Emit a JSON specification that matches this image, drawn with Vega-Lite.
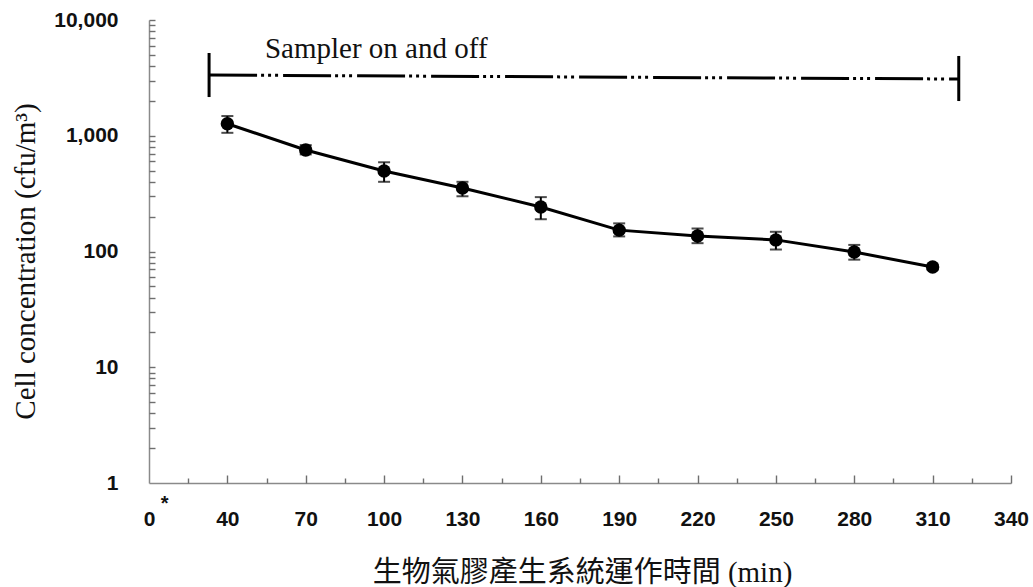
{
  "$schema": "https://vega.github.io/schema/vega-lite/v6.json",
  "width": 862,
  "height": 463,
  "autosize": "none",
  "padding": {"left": 149, "top": 20, "right": 22, "bottom": 104},
  "background": "white",
  "config": {
    "view": {"stroke": null},
    "axis": {
      "grid": false,
      "domainColor": "#8a8a8a",
      "domainWidth": 1.5,
      "tickColor": "#6e6e6e",
      "tickWidth": 1.4,
      "labelFont": "Liberation Sans",
      "labelFontWeight": "bold",
      "labelFontSize": 21,
      "labelColor": "#111111",
      "labelFlush": false,
      "labelOverlap": false,
      "titleFont": "Liberation Serif, Noto Sans CJK TC",
      "titleFontWeight": "normal",
      "titleFontSize": 29,
      "titleColor": "#111111"
    }
  },
  "datasets": {
    "series": [
      {"t": 40, "v": 1270, "lo": 1060, "hi": 1480},
      {"t": 70, "v": 753, "lo": 690, "hi": 830},
      {"t": 100, "v": 496, "lo": 400, "hi": 590},
      {"t": 130, "v": 354, "lo": 300, "hi": 400},
      {"t": 160, "v": 242, "lo": 190, "hi": 295},
      {"t": 190, "v": 153, "lo": 135, "hi": 175},
      {"t": 220, "v": 136, "lo": 118, "hi": 158},
      {"t": 250, "v": 126, "lo": 104, "hi": 148},
      {"t": 280, "v": 99, "lo": 85, "hi": 114},
      {"t": 310, "v": 73.5, "lo": 70, "hi": 77}
    ],
    "sampler": [
      {"t": 33, "t2": 320, "v": 3350, "v2": 3090}
    ],
    "caps": [
      {"t": 33, "v": 5190, "v2": 2160},
      {"t": 320, "v": 4890, "v2": 1995}
    ],
    "notes": [
      {"t": 54.4, "v": 4700, "label": "Sampler on and off"}
    ],
    "star": [
      {"t": 16, "v": 0.66, "label": "*"}
    ]
  },
  "resolve": {"axis": {"x": "independent", "y": "independent"}},
  "layer": [
    {
      "data": {"name": "series"},
      "mark": {"type": "errorbar", "ticks": {"size": 12, "color": "black", "thickness": 2}, "rule": {"color": "black", "strokeWidth": 2}},
      "encoding": {
        "x": {
          "field": "t", "type": "quantitative",
          "scale": {"domain": [10, 340], "nice": false, "zero": false},
          "axis": {
            "title": "生物氣膠產生系統運作時間  (min)",
            "orient": "bottom",
            "values": [10, 40, 70, 100, 130, 160, 190, 220, 250, 280, 310, 340],
            "labelExpr": "datum.value == 10 ? '0' : datum.label",
            "ticks": false,
            "tickSize": 0,
            "labelPadding": 25,
            "titleX": 433,
            "titleY": 89,
            "titleBaseline": "middle",
            "titleAlign": "center"
          }
        },
        "y": {
          "field": "lo", "type": "quantitative",
          "scale": {"type": "log", "domain": [1, 10000], "nice": false},
          "axis": {
            "title": "Cell concentration (cfu/m³)",
            "orient": "left",
            "values": [1, 10, 100, 1000, 10000],
            "format": ",",
            "ticks": false,
            "tickSize": 0,
            "labelPadding": 31,
            "titleX": -124,
            "titleY": 241,
            "titleAngle": -90,
            "titleBaseline": "middle",
            "titleAlign": "center"
          }
        },
        "y2": {"field": "hi"}
      }
    },
    {
      "data": {"name": "series"},
      "mark": {"type": "point", "opacity": 0},
      "encoding": {
        "x": {
          "field": "t", "type": "quantitative",
          "axis": {
            "orient": "top",
            "offset": -463,
            "title": null,
            "labels": false,
            "domain": false,
            "values": [25, 40, 55, 70, 85, 100, 115, 130, 145, 160, 175, 190, 205, 220, 235, 250, 265, 280, 295, 310, 325, 340],
            "tickSize": {"condition": {"test": "(datum.value - 10) % 30 == 0", "value": 8}, "value": 5}
          }
        },
        "y": {
          "field": "v", "type": "quantitative",
          "axis": {
            "orient": "right",
            "offset": -862,
            "title": null,
            "labels": false,
            "domain": false,
            "values": [2, 3, 4, 5, 6, 7, 8, 9, 10, 20, 30, 40, 50, 60, 70, 80, 90, 100, 200, 300, 400, 500, 600, 700, 800, 900, 1000, 2000, 3000, 4000, 5000, 6000, 7000, 8000, 9000, 10000],
            "tickSize": 6
          }
        }
      }
    },
    {
      "data": {"name": "series"},
      "mark": {"type": "line", "color": "black", "strokeWidth": 3},
      "encoding": {
        "x": {"field": "t", "type": "quantitative", "axis": null},
        "y": {"field": "v", "type": "quantitative", "axis": null}
      }
    },
    {
      "data": {"name": "series"},
      "mark": {"type": "point", "shape": "circle", "filled": true, "size": 180, "color": "black", "opacity": 1},
      "encoding": {
        "x": {"field": "t", "type": "quantitative", "axis": null},
        "y": {"field": "v", "type": "quantitative", "axis": null}
      }
    },
    {
      "data": {"name": "sampler"},
      "mark": {"type": "rule", "color": "black", "strokeWidth": 3, "strokeDash": [48, 4, 3, 4, 3, 4, 3, 5]},
      "encoding": {
        "x": {"field": "t", "type": "quantitative", "axis": null},
        "x2": {"field": "t2"},
        "y": {"field": "v", "type": "quantitative", "axis": null},
        "y2": {"field": "v2"}
      }
    },
    {
      "data": {"name": "caps"},
      "mark": {"type": "rule", "color": "black", "strokeWidth": 3},
      "encoding": {
        "x": {"field": "t", "type": "quantitative", "axis": null},
        "y": {"field": "v", "type": "quantitative", "axis": null},
        "y2": {"field": "v2"}
      }
    },
    {
      "data": {"name": "notes"},
      "mark": {"type": "text", "font": "Liberation Serif", "fontSize": 29, "align": "left", "baseline": "alphabetic", "color": "#111111"},
      "encoding": {
        "x": {"field": "t", "type": "quantitative", "axis": null},
        "y": {"field": "v", "type": "quantitative", "axis": null},
        "text": {"field": "label"}
      }
    },
    {
      "data": {"name": "star"},
      "mark": {"type": "text", "font": "Liberation Sans", "fontWeight": "bold", "fontSize": 20, "align": "center", "baseline": "middle", "color": "#111111", "clip": false},
      "encoding": {
        "x": {"field": "t", "type": "quantitative", "axis": null},
        "y": {"field": "v", "type": "quantitative", "axis": null},
        "text": {"field": "label"}
      }
    }
  ]
}
